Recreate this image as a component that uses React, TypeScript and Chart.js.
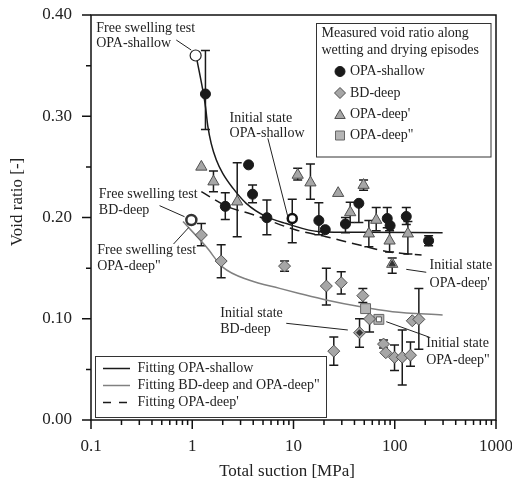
import React, { useEffect, useRef } from 'react';
import { Chart, registerables } from 'chart.js';
Chart.register(...registerables);

const FONT = "'Liberation Serif', 'Times New Roman', serif";

// Axis ticks
const xMajor = [0.1, 1, 10, 100, 1000];
const xMinorMult = [2, 3, 4, 5, 6, 7, 8, 9];
const yMajor = [0, 0.1, 0.2, 0.3, 0.4];
const yMinor = [0.05, 0.15, 0.25, 0.35];

// OPA-shallow measured (filled circles)
const shallowX = [1.35, 2.12, 3.6, 3.94, 5.46, 17.8, 20.6, 32.6, 44.2, 84.3, 90, 130, 216];
const shallowY = [0.322, 0.211, 0.252, 0.223, 0.1998, 0.197, 0.188, 0.1936, 0.214, 0.199, 0.192, 0.201, 0.177];
const shallowLo = [0.287, 0.198, null, 0.2146, 0.183, 0.183, null, 0.185, 0.195, 0.19, null, 0.193, 0.172];
const shallowHi = [0.365, 0.2245, null, 0.232, 0.2173, 0.2146, null, 0.2, null, 0.21, null, 0.21, 0.182];

// Open circles
const freeShallowX = [1.08];
const freeShallowY = [0.36];
const initShallowX = [9.72];
const initShallowY = [0.199];
const initShallowLo = [0.175];
const initShallowHi = [0.218];
const freeBDX = [0.98];
const freeBDY = [0.1975];

// OPA-deep' (triangles)
const deep1X = [1.23, 1.62, 2.78, 11.0, 14.7, 27.6, 36.3, 49.2, 55.5, 65.6, 88.9, 134.8, 94.4];
const deep1Y = [0.25, 0.2354, 0.2156, 0.242, 0.2344, 0.224, 0.205, 0.232, 0.184, 0.1975, 0.177, 0.184, 0.154];
const deep1Lo = [null, 0.2255, 0.181, 0.237, 0.218, null, 0.195, 0.227, 0.171, 0.187, 0.166, 0.164, 0.145];
const deep1Hi = [null, 0.246, 0.254, 0.2486, 0.2528, null, 0.215, 0.237, 0.197, 0.21, 0.187, 0.196, 0.16];
const initDeep1X = [94.4];
const initDeep1Y = [0.154];

// BD-deep (diamonds)
const bdX = [1.23, 1.93, 8.16, 21.1, 29.6, 48.4, 56.4, 44.9, 25, 77.5, 81.6, 99.5, 118.6, 143, 149, 173];
const bdY = [0.1827, 0.157, 0.152, 0.1323, 0.1356, 0.1228, 0.0998, 0.0862, 0.068, 0.075, 0.0665, 0.0619, 0.062, 0.064, 0.098, 0.0994];
const bdLo = [0.172, 0.1406, 0.147, 0.1136, 0.1244, 0.116, 0.087, 0.0718, 0.054, 0.071, null, 0.049, 0.0346, 0.053, null, 0.07];
const bdHi = [0.194, 0.173, 0.157, 0.15, 0.1465, 0.13, 0.1, 0.1, 0.082, 0.079, null, 0.074, 0.089, 0.077, null, 0.13];
const initBDX = [44.9];
const initBDY = [0.0862];

// OPA-deep'' (squares)
const deep2X = [51.5, 69.7];
const deep2Y = [0.11, 0.0994];
const initDeep2X = [69.7];
const initDeep2Y = [0.0994];

// Fitted curves
const fitShallowX = [1.08, 1.27, 1.353, 1.426, 1.54, 1.726, 2.0, 2.52, 3.41, 5.38, 8.5, 18.1, 44.7, 297];
const fitShallowY = [0.362, 0.326, 0.309, 0.29, 0.273, 0.257, 0.2436, 0.229, 0.214, 0.2008, 0.194, 0.186, 0.1854, 0.185];
const fitBDX = [0.81, 1.375, 2.0, 3.68, 7.3, 11.4, 21, 44.7, 95, 297];
const fitBDY = [0.196, 0.171, 0.151, 0.138, 0.13, 0.125, 0.1185, 0.112, 0.107, 0.1037];
const fitDeep1X = [1.23, 2.23, 3.68, 10.6, 21, 44.7, 88.9, 184];
const fitDeep1Y = [0.2255, 0.2107, 0.204, 0.1877, 0.181, 0.1728, 0.166, 0.163];

// Annotations: [text lines], anchor (left x, first line y), leader from -> to (data units)
const annTexts = [
  ['Free swelling test', 'OPA-shallow'],
  ['Initial state', 'OPA-shallow'],
  ['Free swelling test', 'BD-deep'],
  ['Free swelling test', 'OPA-deep"'],
  ['Initial state', 'BD-deep'],
  ['Initial state', "OPA-deep'"],
  ['Initial state', 'OPA-deep"'],
];
const annX = [0.1127, 2.336, 0.1195, 0.1153, 1.89, 220.7, 204.7];
const annY1 = [0.3869, 0.298, 0.2229, 0.1679, 0.1054, 0.1531, 0.0758];
const annY2 = [0.3721, 0.2832, 0.2067, 0.1514, 0.0896, 0.135, 0.0593];
const leadX1 = [0.695, 5.58, 0.4755, 0.6535, 8.48, 129.9, 82.4];
const leadY1 = [0.3753, 0.2782, 0.2117, 0.1738, 0.0955, 0.1488, 0.0971];
const leadX2 = [0.977, 8.79, 0.839, 0.926, 34.4, 204.7, 220.7];
const leadY2 = [0.3654, 0.2008, 0.2008, 0.1903, 0.0889, 0.1459, 0.0817];

const legendTitle = ['Measured void ratio along', 'wetting and drying episodes'];
const legendSeries = ['OPA-shallow', 'BD-deep', "OPA-deep'", 'OPA-deep"'];
const legendFits = ['Fitting OPA-shallow', 'Fitting BD-deep and OPA-deep"', "Fitting OPA-deep'"];

const GRAY_FILL = '#a6a6a6';
const GRAY_EDGE = '#505050';
const DARK = '#1a1a1a';
const TEXT = '#222';

const pts = (xs: number[], ys: number[]) => xs.map((x, i) => ({ x, y: ys[i] }));

function marker(ctx: CanvasRenderingContext2D, kind: string, x: number, y: number, r: number, fill: string, stroke: string, lw = 1) {
  ctx.save();
  ctx.beginPath();
  if (kind === 'circle') ctx.arc(x, y, r, 0, Math.PI * 2);
  else if (kind === 'diamond') { ctx.moveTo(x, y - r); ctx.lineTo(x + r, y); ctx.lineTo(x, y + r); ctx.lineTo(x - r, y); ctx.closePath(); }
  else if (kind === 'triangle') { ctx.moveTo(x, y - r); ctx.lineTo(x + r * 0.87, y + r * 0.5); ctx.lineTo(x - r * 0.87, y + r * 0.5); ctx.closePath(); }
  else { ctx.rect(x - r, y - r, 2 * r, 2 * r); }
  ctx.fillStyle = fill; ctx.fill();
  ctx.lineWidth = lw; ctx.strokeStyle = stroke; ctx.stroke();
  ctx.restore();
}

const customPlugin = {
  id: 'custom',
  beforeDatasetsDraw(chart: any) {
    const { ctx } = chart;
    const sx = chart.scales.x, sy = chart.scales.y;
    const sets: [number[], number[], (number | null)[], (number | null)[]][] = [
      [shallowX, shallowY, shallowLo, shallowHi],
      [initShallowX, initShallowY, initShallowLo, initShallowHi],
      [deep1X, deep1Y, deep1Lo, deep1Hi],
      [bdX, bdY, bdLo, bdHi],
    ];
    ctx.save();
    ctx.strokeStyle = DARK;
    ctx.lineWidth = 1.5;
    const cap = 4.5;
    sets.forEach(([xs, ys, los, his]) => {
      xs.forEach((xv, i) => {
        if (los[i] == null && his[i] == null) return;
        const px = sx.getPixelForValue(xv);
        const lo = sy.getPixelForValue(los[i] ?? ys[i]);
        const hi = sy.getPixelForValue(his[i] ?? ys[i]);
        ctx.beginPath();
        ctx.moveTo(px, lo); ctx.lineTo(px, hi);
        if (los[i] != null) { ctx.moveTo(px - cap, lo); ctx.lineTo(px + cap, lo); }
        if (his[i] != null) { ctx.moveTo(px - cap, hi); ctx.lineTo(px + cap, hi); }
        ctx.stroke();
      });
    });
    ctx.restore();
  },
  afterDraw(chart: any) {
    const { ctx, chartArea: a } = chart;
    const sx = chart.scales.x, sy = chart.scales.y;
    ctx.save();
    // frame
    ctx.strokeStyle = '#111';
    ctx.lineWidth = 1.5;
    ctx.strokeRect(a.left, a.top, a.right - a.left, a.bottom - a.top);
    // ticks
    ctx.beginPath();
    yMajor.forEach(v => { const p = sy.getPixelForValue(v); ctx.moveTo(a.left - 9, p); ctx.lineTo(a.left, p); });
    yMinor.forEach(v => { const p = sy.getPixelForValue(v); ctx.moveTo(a.left - 5, p); ctx.lineTo(a.left, p); });
    xMajor.forEach(v => { const p = sx.getPixelForValue(v); ctx.moveTo(p, a.bottom); ctx.lineTo(p, a.bottom + 9); });
    xMajor.slice(0, -1).forEach(d => xMinorMult.forEach(m => {
      const p = sx.getPixelForValue(d * m); ctx.moveTo(p, a.bottom); ctx.lineTo(p, a.bottom + 5);
    }));
    ctx.stroke();

    // axis titles
    ctx.fillStyle = TEXT;
    ctx.font = `17px ${FONT}`;
    ctx.textAlign = 'center';
    ctx.textBaseline = 'middle';
    ctx.fillText('Total suction [MPa]', 287, 472);
    ctx.save();
    ctx.translate(18, 202);
    ctx.rotate(-Math.PI / 2);
    ctx.fillText('Void ratio [-]', 0, 0);
    ctx.restore();

    // annotations
    ctx.font = `14px ${FONT}`;
    ctx.textAlign = 'left';
    ctx.strokeStyle = '#222';
    ctx.lineWidth = 1;
    annTexts.forEach((lines, i) => {
      const x = sx.getPixelForValue(annX[i]);
      ctx.fillText(lines[0], x, sy.getPixelForValue(annY1[i]));
      ctx.fillText(lines[1], x, sy.getPixelForValue(annY2[i]));
      ctx.beginPath();
      ctx.moveTo(sx.getPixelForValue(leadX1[i]), sy.getPixelForValue(leadY1[i]));
      ctx.lineTo(sx.getPixelForValue(leadX2[i]), sy.getPixelForValue(leadY2[i]));
      ctx.stroke();
    });

    // legend 1 (markers)
    ctx.fillStyle = '#fff';
    ctx.fillRect(316.5, 23.5, 174.5, 133.5);
    ctx.strokeStyle = '#333';
    ctx.lineWidth = 1;
    ctx.strokeRect(316.5, 23.5, 174.5, 133.5);
    ctx.fillStyle = TEXT;
    ctx.fillText(legendTitle[0], 321.5, 33.5);
    ctx.fillText(legendTitle[1], 321.5, 50.5);
    const ly = [71.5, 93, 114.5, 135.5];
    marker(ctx, 'circle', 340, ly[0], 5, DARK, DARK);
    marker(ctx, 'diamond', 340, ly[1], 5.5, GRAY_FILL, GRAY_EDGE);
    marker(ctx, 'triangle', 340, ly[2] + 1, 6, GRAY_FILL, GRAY_EDGE);
    marker(ctx, 'rect', 340, ly[3], 4.5, '#b5b5b5', '#666');
    ctx.fillStyle = TEXT;
    legendSeries.forEach((t, i) => ctx.fillText(t, 350, ly[i]));

    // legend 2 (fits)
    ctx.fillStyle = '#fff';
    ctx.fillRect(95.5, 356.5, 231, 61);
    ctx.strokeStyle = '#333';
    ctx.strokeRect(95.5, 356.5, 231, 61);
    const fy = [368.5, 385.5, 402.5];
    ctx.lineWidth = 1.5;
    ctx.strokeStyle = DARK;
    ctx.beginPath(); ctx.moveTo(103, fy[0]); ctx.lineTo(130, fy[0]); ctx.stroke();
    ctx.strokeStyle = '#808080';
    ctx.beginPath(); ctx.moveTo(103, fy[1]); ctx.lineTo(130, fy[1]); ctx.stroke();
    ctx.strokeStyle = DARK;
    ctx.setLineDash([8, 8]);
    ctx.beginPath(); ctx.moveTo(103, fy[2]); ctx.lineTo(131, fy[2]); ctx.stroke();
    ctx.setLineDash([]);
    ctx.fillStyle = TEXT;
    legendFits.forEach((t, i) => ctx.fillText(t, 137.5, fy[i]));
    ctx.restore();
  },
};

export default function App() {
  const ref = useRef<HTMLCanvasElement | null>(null);
  useEffect(() => {
    if (!ref.current) return;
    Chart.defaults.font.family = FONT;
    const lineDs = (data: any, color: string, dash: number[] = []) => ({
      type: 'line' as const, data, borderColor: color, borderWidth: 1.5, borderDash: dash,
      pointRadius: 0, fill: false, cubicInterpolationMode: 'monotone' as const, order: 10,
    });
    const chart = new Chart(ref.current, {
      type: 'scatter',
      data: {
        datasets: [
          lineDs(pts(fitShallowX, fitShallowY), DARK),
          lineDs(pts(fitBDX, fitBDY), '#808080'),
          lineDs(pts(fitDeep1X, fitDeep1Y), DARK, [10, 6]),
          { data: pts(bdX, bdY), pointStyle: 'rectRot', pointRadius: 6, backgroundColor: GRAY_FILL, borderColor: GRAY_EDGE, borderWidth: 1, order: 3 },
          { data: pts(deep1X, deep1Y), pointStyle: 'triangle', pointRadius: 6.5, backgroundColor: GRAY_FILL, borderColor: GRAY_EDGE, borderWidth: 1, order: 3 },
          { data: pts(deep2X, deep2Y), pointStyle: 'rect', pointRadius: 7, backgroundColor: '#b5b5b5', borderColor: '#666', borderWidth: 1, order: 3 },
          { data: pts(shallowX, shallowY), pointStyle: 'circle', pointRadius: 5, backgroundColor: DARK, borderColor: DARK, borderWidth: 1, order: 2 },
          { data: pts(freeShallowX, freeShallowY), pointStyle: 'circle', pointRadius: 5.5, backgroundColor: '#fff', borderColor: '#222', borderWidth: 1.2, order: 2 },
          { data: pts(initShallowX, initShallowY), pointStyle: 'circle', pointRadius: 4.5, backgroundColor: '#fff', borderColor: '#111', borderWidth: 2.5, order: 2 },
          { data: pts(freeBDX, freeBDY), pointStyle: 'circle', pointRadius: 5, backgroundColor: '#fff', borderColor: '#333', borderWidth: 2.5, order: 2 },
          { data: pts(initBDX, initBDY), pointStyle: 'rectRot', pointRadius: 3, backgroundColor: '#333', borderColor: '#333', borderWidth: 1, order: 1 },
          { data: pts(initDeep1X, initDeep1Y), pointStyle: 'triangle', pointRadius: 3.5, backgroundColor: '#333', borderColor: '#333', borderWidth: 1, order: 1 },
          { data: pts(initDeep2X, initDeep2Y), pointStyle: 'rect', pointRadius: 3.5, backgroundColor: '#fff', borderColor: '#555', borderWidth: 1, order: 1 },
        ] as any,
      },
      options: {
        animation: false,
        responsive: false,
        devicePixelRatio: 1,
        layout: { padding: { left: 0, top: 15, right: 16, bottom: 0 } },
        plugins: { legend: { display: false }, tooltip: { enabled: false } },
        scales: {
          x: {
            type: 'logarithmic', min: 0.1, max: 1000,
            afterBuildTicks: (s: any) => { s.ticks = xMajor.map(v => ({ value: v })); },
            afterFit: (s: any) => { s.height = 70; s.paddingLeft = 0; s.paddingRight = 0; },
            grid: { display: false, drawTicks: false }, border: { display: false },
            ticks: { font: { family: FONT, size: 17 }, color: TEXT, padding: 16, maxRotation: 0, autoSkip: false, callback: (v: any) => String(v) },
          },
          y: {
            type: 'linear', min: 0, max: 0.4,
            afterBuildTicks: (s: any) => { s.ticks = yMajor.map(v => ({ value: v })); },
            afterFit: (s: any) => { s.width = 91; s.paddingTop = 0; s.paddingBottom = 0; },
            grid: { display: false, drawTicks: false }, border: { display: false },
            ticks: { font: { family: FONT, size: 17 }, color: TEXT, padding: 19, callback: (v: any) => Number(v).toFixed(2) },
          },
        },
      } as any,
      plugins: [customPlugin],
    });
    return () => chart.destroy();
  }, []);
  return (
    <div style={{ position: 'fixed', left: 0, top: 0, width: 512, height: 490, background: '#fff' }}>
      <canvas ref={ref} width={512} height={490} />
    </div>
  );
}
